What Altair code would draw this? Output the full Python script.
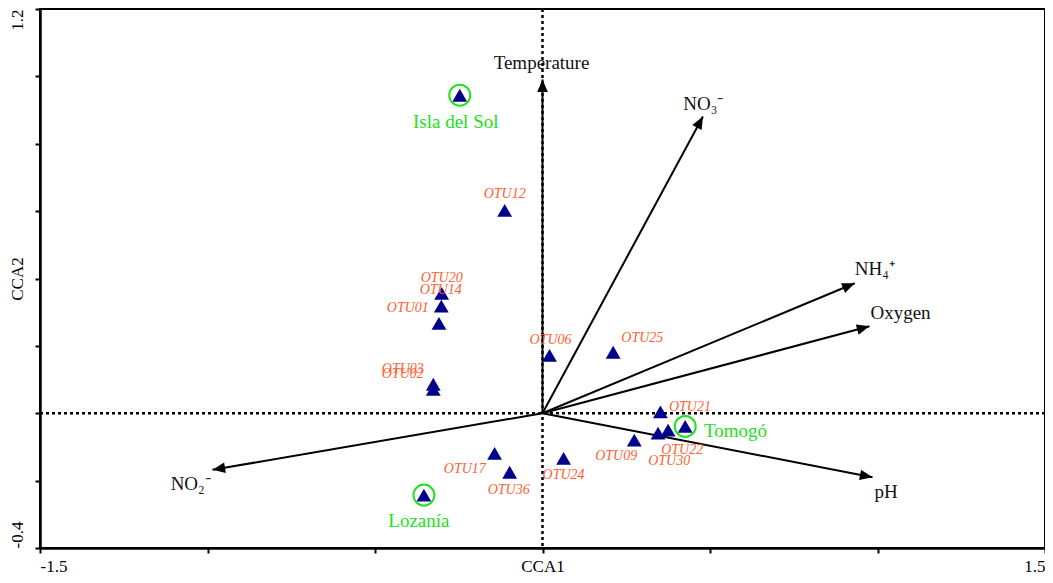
import math
import altair as alt
import pandas as pd

# ---------------- data ----------------
otu_names = ["OTU12", "OTU20", "OTU14", "OTU01", "OTU03", "OTU02", "OTU06", "OTU25",
             "OTU21", "OTU22", "OTU30", "OTU09", "OTU24", "OTU17", "OTU36"]
otu_x = [-0.113, -0.301, -0.302, -0.309, -0.326, -0.326, 0.021, 0.211,
         0.352, 0.375, 0.345, 0.274, 0.063, -0.143, -0.098]
otu_y = [0.602, 0.356, 0.318, 0.267, 0.086, 0.071, 0.172, 0.181,
         0.004, -0.050, -0.059, -0.080, -0.134, -0.119, -0.175]
otu_label_x = [-0.113, -0.301, -0.304, -0.402, -0.417, -0.417, 0.024, 0.298,
               0.440, 0.417, 0.378, 0.220, 0.063, -0.232, -0.101]
otu_label_y = [0.650, 0.401, 0.365, 0.312, 0.131, 0.116, 0.217, 0.223,
               0.018, -0.110, -0.142, -0.128, -0.184, -0.166, -0.228]

site_names = ["Isla del Sol", "Tomogó", "Lozanía"]
site_x = [-0.247, 0.426, -0.354]
site_y = [0.944, -0.039, -0.243]
site_label_x = [-0.259, 0.482, -0.369]
site_label_y = [0.866, -0.053, -0.320]
site_label_align = ["center", "left", "center"]

env_names = ["Temperature", "NO₃⁻", "NH₄⁺", "Oxygen", "pH", "NO₂⁻"]
env_x = [0.0, 0.479, 0.932, 0.976, 0.985, -0.985]
env_y = [0.991, 0.881, 0.386, 0.258, -0.190, -0.168]
env_label_x = [-0.003, 0.420, 0.932, 0.979, 0.991, -1.110]
env_label_y = [1.040, 0.917, 0.427, 0.297, -0.234, -0.211]
env_label_align = ["center", "left", "left", "left", "left", "left"]

x_ticks = [-1.5, -1.0, -0.5, 0.0, 0.5, 1.0, 1.5]
y_ticks = [-0.4, -0.2, 0.0, 0.2, 0.4, 0.6, 0.8, 1.0, 1.2]

# ---------------- tables ----------------
otu_df = pd.DataFrame({"name": otu_names, "x": otu_x, "y": otu_y,
                       "lx": otu_label_x, "ly": otu_label_y})
site_df = pd.DataFrame({"name": site_names, "x": site_x, "y": site_y,
                        "lx": site_label_x, "ly": site_label_y, "align": site_label_align})
pts_df = pd.concat([otu_df[["x", "y"]], site_df[["x", "y"]]], ignore_index=True)
env_df = pd.DataFrame({"name": env_names, "x": env_x, "y": env_y,
                       "lx": env_label_x, "ly": env_label_y, "align": env_label_align})
env_df["x0"] = 0.0
env_df["y0"] = 0.0
env_df["angle"] = [math.degrees(math.atan2(a * 335.0, b * 336.9)) % 360 for a, b in zip(env_x, env_y)]

W, H = 1005, 539
SERIF = "Liberation Serif"
GREEN = "#22E022"
ORANGE = "#FF6030"
NAVY = "#00008B"

xs = alt.Scale(domain=[-1.5, 1.5], nice=False, zero=False)
ys = alt.Scale(domain=[-0.4, 1.2], nice=False, zero=False)

x_axis = alt.Axis(
    values=x_ticks, title="CCA1", grid=False,
    labelExpr="abs(datum.value + 1.5) < 1e-6 ? '-1.5' : (abs(datum.value - 1.5) < 1e-6 ? '1.5' : '')",
    labelFlush=True, labelPadding=5, labelBaseline="top",
    titleY=10, titleBaseline="top",
)
y_axis = alt.Axis(
    values=y_ticks, title="CCA2", grid=False,
    labelExpr="abs(datum.value - 1.2) < 1e-6 ? '1.2' : (abs(datum.value + 0.4) < 1e-6 ? '-0.4' : '')",
    labelAngle=270, labelBaseline="bottom", labelPadding=9,
    labelAlign=alt.ConditionalAxisLabelAlign(
        condition={"test": "datum.value > 1", "value": "right"}, value="left"),
    titleX=-14, titleBaseline="bottom",
)

base_x = alt.X("x:Q", scale=xs, axis=x_axis)
base_y = alt.Y("y:Q", scale=ys, axis=y_axis)

# zero reference lines
hline = alt.Chart(pd.DataFrame({"v": [0.0]})).mark_rule(
    color="black", strokeWidth=2.5, strokeDash=[3, 3]).encode(y=alt.Y("v:Q", scale=ys, axis=y_axis))
vline = alt.Chart(pd.DataFrame({"v": [0.0]})).mark_rule(
    color="black", strokeWidth=2.5, strokeDash=[3, 3]).encode(x=alt.X("v:Q", scale=xs, axis=x_axis))

env_base = alt.Chart(env_df)
vectors = env_base.mark_rule(color="black", strokeWidth=2).encode(
    x=alt.X("x0:Q", scale=xs, axis=x_axis), y=alt.Y("y0:Q", scale=ys, axis=y_axis),
    x2="x:Q", y2="y:Q")
heads = env_base.mark_point(shape="M0,0L-0.42,1L0.42,1Z", filled=True, color="black",
                            size=640, opacity=1, strokeWidth=0).encode(
    x=base_x, y=base_y, angle=alt.Angle("angle:Q", scale=None))

env_labels = []
for a in ["center", "left"]:
    env_labels.append(env_base.transform_filter(alt.datum.align == a).mark_text(
        font=SERIF, fontSize=19, color="#111111", align=a, baseline="middle").encode(
        x=alt.X("lx:Q", scale=xs, axis=x_axis), y=alt.Y("ly:Q", scale=ys, axis=y_axis),
        text="name:N"))

tri = alt.Chart(pts_df).mark_point(shape="triangle-up", filled=True, color=NAVY,
                                   size=220, opacity=1).encode(x=base_x, y=base_y)

circles = alt.Chart(site_df).mark_point(shape="circle", filled=False, color=GREEN,
                                        strokeWidth=2, size=440, opacity=1).encode(x=base_x, y=base_y)

otu_labels = alt.Chart(otu_df).mark_text(font=SERIF, fontStyle="italic", fontSize=14,
                                         color=ORANGE, align="center", baseline="middle").encode(
    x=alt.X("lx:Q", scale=xs, axis=x_axis), y=alt.Y("ly:Q", scale=ys, axis=y_axis), text="name:N")

site_labels = []
for a in ["center", "left"]:
    site_labels.append(alt.Chart(site_df).transform_filter(alt.datum.align == a).mark_text(
        font=SERIF, fontSize=19, color=GREEN, align=a, baseline="middle").encode(
        x=alt.X("lx:Q", scale=xs, axis=x_axis), y=alt.Y("ly:Q", scale=ys, axis=y_axis),
        text="name:N"))

chart = alt.layer(
    hline, vline, vectors, heads, *env_labels, tri, circles, otu_labels, *site_labels
).properties(
    width=W, height=H,
    autosize=alt.AutoSizeParams(type="none"),
    padding={"left": 32, "top": 1, "right": 0, "bottom": 27},
    background="white",
).configure_view(
    stroke="black", strokeWidth=2
).configure_axis(
    domainColor="black", domainWidth=2.5, tickColor="black", tickWidth=2, tickSize=5,
    labelFont=SERIF, labelFontSize=17, labelColor="black",
    titleFont=SERIF, titleFontSize=17, titleColor="black", titleFontWeight="normal",
)

chart.save("out.html", embed_options={"renderer": "svg", "actions": False})
